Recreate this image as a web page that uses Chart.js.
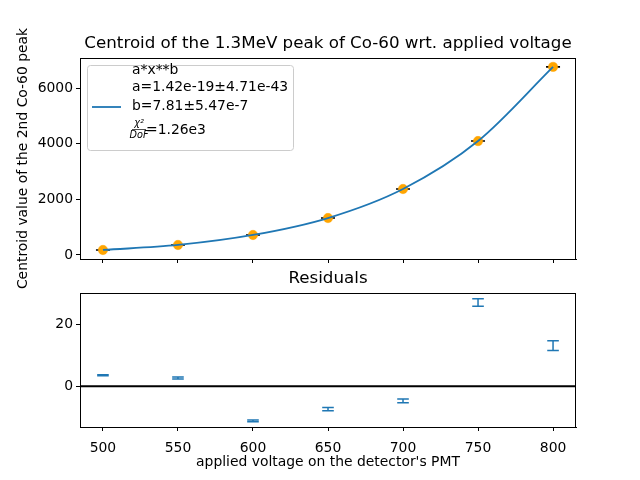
<!DOCTYPE html>
<html><head><meta charset="utf-8">
<script src="https://cdn.jsdelivr.net/npm/chart.js@4.4.1/dist/chart.umd.min.js"></script>
<style>
html,body{margin:0;padding:0;background:#fff;}
#wrap{position:relative;width:640px;height:480px;background:#fff;}
canvas{position:absolute;left:0;top:0;}
</style></head><body>
<div id="wrap"><canvas id="c1" width="640" height="480"></canvas><canvas id="c2" width="640" height="480"></canvas></div>
<script>
// ---- data ----
const voltages = [500, 550, 600, 650, 700, 750, 800];
const centroids = [180, 360, 720, 1330, 2375, 4100, 6770];
const centroidErr = [0.2, 0.3, 0.3, 0.5, 0.6, 1.2, 1.6];
const residuals = [3.6, 2.7, -11.2, -7.4, -4.7, 27.2, 13.2];
const residualErr = [0.2, 0.3, 0.3, 0.5, 0.6, 1.2, 1.6];
const xTicks = [500, 550, 600, 650, 700, 750, 800];
const yTicksTop = [0, 2000, 4000, 6000];
const yTicksRes = [0, 20];
const legendLines = ["a*x**b", "a=1.42e-19\u00b14.71e-43", "b=7.81\u00b15.47e-7"];
const chiText = "=1.26e3";
const mainTitle = "Centroid of the 1.3MeV peak of Co-60 wrt. applied voltage";
const resTitle = "Residuals";
const xLabel = "applied voltage on the detector's PMT";
const yLabel = "Centroid value of the 2nd Co-60 peak";

const FONT = "DejaVu Sans";
const BLUE = "#1f77b4";
const ORANGE = "#ffa500";
const tickFont = {family: FONT, size: 13.9};

const framePlugin = {
  id: 'frame',
  afterDraw(chart) {
    const a = chart.chartArea, ctx = chart.ctx;
    ctx.save();
    ctx.strokeStyle = '#000'; ctx.lineWidth = 1;
    ctx.strokeRect(Math.round(a.left) + 0.5, Math.round(a.top) + 0.5, Math.round(a.right - a.left) - 1, Math.round(a.bottom - a.top));
    ctx.restore();
  }
};

function titlePlugin(text, y) {
  return {
    id: 'ttl' + y,
    afterDraw(chart) {
      const a = chart.chartArea, ctx = chart.ctx;
      ctx.save();
      ctx.fillStyle = '#000';
      ctx.font = '16.7px "' + FONT + '"';
      ctx.textAlign = 'center'; ctx.textBaseline = 'middle';
      ctx.fillText(text, (a.left + a.right) / 2, y);
      ctx.restore();
    }
  };
}

const capsTop = {
  id: 'capsTop',
  beforeDatasetsDraw(chart) {
    const xs = chart.scales.x, ys = chart.scales.y, ctx = chart.ctx;
    ctx.save();
    ctx.strokeStyle = '#000'; ctx.lineWidth = 1.5;
    voltages.forEach((v, i) => {
      const px = xs.getPixelForValue(v);
      const top = ys.getPixelForValue(centroids[i] + centroidErr[i]);
      const bot = ys.getPixelForValue(centroids[i] - centroidErr[i]);
      ctx.beginPath();
      ctx.moveTo(px - 7, top); ctx.lineTo(px + 7, top);
      ctx.moveTo(px - 7, bot); ctx.lineTo(px + 7, bot);
      ctx.moveTo(px, top); ctx.lineTo(px, bot);
      ctx.stroke();
    });
    ctx.restore();
  }
};

const legendPlugin = {
  id: 'fitLegend',
  afterDraw(chart) {
    const ctx = chart.ctx;
    ctx.save();
    const x0 = 87.5, y0 = 65.5, w = 206, h = 85, r = 3;
    ctx.beginPath();
    ctx.moveTo(x0 + r, y0);
    ctx.arcTo(x0 + w, y0, x0 + w, y0 + h, r);
    ctx.arcTo(x0 + w, y0 + h, x0, y0 + h, r);
    ctx.arcTo(x0, y0 + h, x0, y0, r);
    ctx.arcTo(x0, y0, x0 + w, y0, r);
    ctx.closePath();
    ctx.fillStyle = 'rgba(255,255,255,0.8)'; ctx.fill();
    ctx.strokeStyle = '#cccccc'; ctx.lineWidth = 1; ctx.stroke();
    ctx.strokeStyle = BLUE; ctx.lineWidth = 1.8;
    ctx.beginPath(); ctx.moveTo(92, 107); ctx.lineTo(121, 107); ctx.stroke();
    ctx.fillStyle = '#000';
    ctx.font = '13.9px "' + FONT + '"';
    ctx.textAlign = 'left'; ctx.textBaseline = 'middle';
    const ys = [70, 87.5, 106];
    legendLines.forEach((t, i) => ctx.fillText(t, 132, ys[i]));
    // fraction chi^2 / DoF
    ctx.font = 'italic 9.7px "' + FONT + '"';
    ctx.textAlign = 'center';
    ctx.fillText("\u03c7\u00b2", 139, 123);
    ctx.fillText("DoF", 139, 135);
    ctx.strokeStyle = '#000'; ctx.lineWidth = 0.7;
    ctx.beginPath(); ctx.moveTo(132, 129.5); ctx.lineTo(146, 129.5); ctx.stroke();
    ctx.font = '13.9px "' + FONT + '"';
    ctx.textAlign = 'left';
    ctx.fillText(chiText, 146, 130);
    ctx.restore();
  }
};

const resPlugin = {
  id: 'resBars',
  afterDatasetsDraw(chart) {
    const xs = chart.scales.x, ys = chart.scales.y, ctx = chart.ctx, a = chart.chartArea;
    ctx.save();
    // zero line
    const y0 = ys.getPixelForValue(0);
    ctx.strokeStyle = '#000'; ctx.lineWidth = 2;
    ctx.beginPath(); ctx.moveTo(a.left, y0); ctx.lineTo(a.right, y0); ctx.stroke();
    ctx.strokeStyle = BLUE; ctx.lineWidth = 1.5;
    voltages.forEach((v, i) => {
      const px = xs.getPixelForValue(v);
      const top = ys.getPixelForValue(residuals[i] + residualErr[i]);
      const bot = ys.getPixelForValue(residuals[i] - residualErr[i]);
      ctx.beginPath();
      ctx.moveTo(px - 5.8, top); ctx.lineTo(px + 5.8, top);
      ctx.moveTo(px - 5.8, bot); ctx.lineTo(px + 5.8, bot);
      ctx.moveTo(px, top); ctx.lineTo(px, bot);
      ctx.stroke();
    });
    ctx.restore();
  }
};

const setXTicks = s => { s.ticks = xTicks.map(v => ({value: v})); };

new Chart(document.getElementById('c1'), {
  type: 'scatter',
  data: {
    datasets: [
      {
        type: 'line',
        data: voltages.map((v, i) => ({x: v, y: centroids[i]})),
        borderColor: BLUE, borderWidth: 1.8, pointRadius: 0,
        cubicInterpolationMode: 'monotone', fill: false
      },
      {
        data: voltages.map((v, i) => ({x: v, y: centroids[i]})),
        backgroundColor: ORANGE, borderColor: ORANGE, pointRadius: 4.7, borderWidth: 0.5
      }
    ]
  },
  options: {
    responsive: false, animation: false, devicePixelRatio: 1,
    layout: {padding: {top: 58, right: 64, bottom: 217, left: 0}},
    plugins: {legend: {display: false}, tooltip: {enabled: false}},
    scales: {
      x: {
        type: 'linear', min: 484.7, max: 815.3,
        afterBuildTicks: setXTicks,
        afterFit: s => { s.height = 4; },
        ticks: {display: false},
        grid: {drawOnChartArea: false, tickLength: 4, tickColor: '#000', tickWidth: 1},
        border: {color: '#000', width: 1}
      },
      y: {
        type: 'linear', min: -145, max: 7090,
        afterBuildTicks: s => { s.ticks = yTicksTop.map(v => ({value: v})); },
        afterFit: s => { s.width = 80; },
        ticks: {color: '#000', font: tickFont, padding: 3, callback: v => String(v)},
        grid: {drawOnChartArea: false, tickLength: 4, tickColor: '#000', tickWidth: 1},
        border: {color: '#000', width: 1},
        title: {display: true, text: yLabel, color: '#000', font: tickFont, padding: {top: 15, bottom: 0}}
      }
    }
  },
  plugins: [capsTop, framePlugin, legendPlugin, titlePlugin(mainTitle, 44)]
});

new Chart(document.getElementById('c2'), {
  type: 'scatter',
  data: {
    datasets: [{
      data: voltages.map((v, i) => ({x: v, y: residuals[i]})),
      pointRadius: 0, borderWidth: 0
    }]
  },
  options: {
    responsive: false, animation: false, devicePixelRatio: 1,
    layout: {padding: {top: 293, right: 64, bottom: 0, left: 0}},
    plugins: {legend: {display: false}, tooltip: {enabled: false}},
    scales: {
      x: {
        type: 'linear', min: 484.7, max: 815.3,
        afterBuildTicks: setXTicks,
        afterFit: s => { s.height = 53; },
        ticks: {color: '#000', font: tickFont, padding: 9, maxRotation: 0, callback: v => String(v)},
        grid: {drawOnChartArea: false, tickLength: 4, tickColor: '#000', tickWidth: 1},
        border: {color: '#000', width: 1}
      },
      y: {
        type: 'linear', min: -13.2, max: 30.3,
        afterBuildTicks: s => { s.ticks = yTicksRes.map(v => ({value: v})); },
        afterFit: s => { s.width = 80; },
        ticks: {color: '#000', font: tickFont, padding: 3, callback: v => String(v)},
        grid: {drawOnChartArea: false, tickLength: 4, tickColor: '#000', tickWidth: 1},
        border: {color: '#000', width: 1}
      }
    }
  },
  plugins: [resPlugin, framePlugin, titlePlugin(resTitle, 279), {
    id: 'xlab',
    afterDraw(chart) {
      const a = chart.chartArea, ctx = chart.ctx;
      ctx.save();
      ctx.fillStyle = '#000';
      ctx.font = '13.9px "' + FONT + '"';
      ctx.textAlign = 'center'; ctx.textBaseline = 'middle';
      ctx.fillText(xLabel, (a.left + a.right) / 2, 462);
      ctx.restore();
    }
  }]
});
</script>
</body></html>
